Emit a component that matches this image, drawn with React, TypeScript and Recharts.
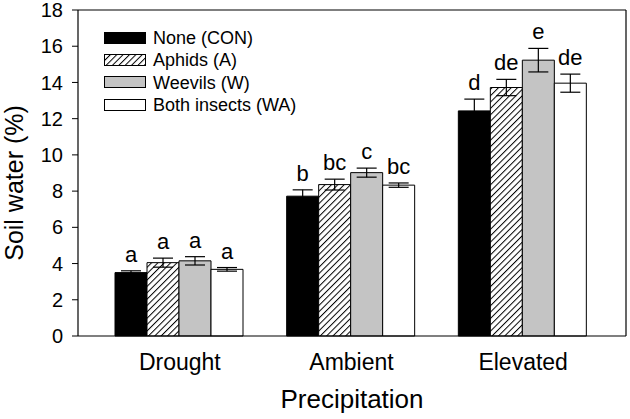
import React from 'react';
import { BarChart, Bar, XAxis, YAxis, ErrorBar, LabelList, usePlotArea } from 'recharts';

const categories = ['Drought', 'Ambient', 'Elevated'];

const noneValues = [3.5, 7.72, 12.43];
const noneErr = [0.1, 0.35, 0.65];
const noneLetters = ['a', 'b', 'd'];

const aphidValues = [4.05, 8.36, 13.72];
const aphidErr = [0.25, 0.3, 0.45];
const aphidLetters = ['a', 'bc', 'de'];

const weevilValues = [4.15, 9.02, 15.23];
const weevilErr = [0.23, 0.25, 0.65];
const weevilLetters = ['a', 'c', 'e'];

const bothValues = [3.68, 8.33, 13.96];
const bothErr = [0.1, 0.12, 0.5];
const bothLetters = ['a', 'bc', 'de'];

const yTicks = [0, 2, 4, 6, 8, 10, 12, 14, 16, 18];

const FONT = 'Arial, "Liberation Sans", sans-serif';

const series = [
  { key: 'none', name: 'None (CON)', fill: '#000000', values: noneValues, err: noneErr, letters: noneLetters },
  { key: 'aphids', name: 'Aphids (A)', fill: 'url(#hatch)', values: aphidValues, err: aphidErr, letters: aphidLetters },
  { key: 'weevils', name: 'Weevils (W)', fill: '#c4c4c4', values: weevilValues, err: weevilErr, letters: weevilLetters },
  { key: 'both', name: 'Both insects (WA)', fill: '#ffffff', values: bothValues, err: bothErr, letters: bothLetters },
];

const chartData = categories.map((category, i) => {
  const row: Record<string, string | number> = { category };
  series.forEach((s) => {
    row[s.key] = s.values[i];
    row[s.key + 'Err'] = s.err[i];
    row[s.key + 'Letter'] = s.letters[i];
  });
  return row;
});

const HatchDef = ({ id }: { id: string }) => (
  <pattern id={id} patternUnits="userSpaceOnUse" width="4.5" height="4.5" patternTransform="rotate(45)">
    <rect width="4.5" height="4.5" fill="#ffffff" />
    <line x1="0" y1="0" x2="0" y2="4.5" stroke="#000" strokeWidth="2" />
  </pattern>
);

// letter above each error bar
const makeLetter = (s: typeof series[number]) => (props: any) => {
  const { x, y, width, height, value, index } = props;
  const v = s.values[index];
  const pxPerUnit = v ? Number(height) / v : 0;
  const errTop = Number(y) - s.err[index] * pxPerUnit;
  return (
    <text x={Number(x) + Number(width) / 2} y={errTop - 9} textAnchor="middle" fontSize={22} fontFamily={FONT} fill="#000">
      {value}
    </text>
  );
};

// frame + axis titles
const Frame = () => {
  const area = usePlotArea();
  if (!area) return null;
  const { x, y, width, height } = area;
  return (
    <g>
      <line x1={x} y1={y} x2={x + width} y2={y} stroke="#000" strokeWidth={1.2} />
      <line x1={x + width} y1={y} x2={x + width} y2={y + height} stroke="#000" strokeWidth={1.2} />
      <text x={x + width / 2} y={408} textAnchor="middle" fontSize={26} fontFamily={FONT} fill="#000">
        Precipitation
      </text>
      <text x={23} y={183} transform="rotate(-90 23 183)" textAnchor="middle" fontSize={25} fontFamily={FONT} fill="#000">
        Soil water (%)
      </text>
    </g>
  );
};

const LegendBox = () => (
  <div style={{ position: 'absolute', left: 104, top: 27, fontFamily: FONT, fontSize: 18 }}>
    {series.map((s) => (
      <div key={s.key} style={{ display: 'flex', alignItems: 'center', height: 22.3 }}>
        <svg width={43} height={13} style={{ marginRight: 6 }}>
          <defs>
            <HatchDef id={'legHatch' + s.key} />
          </defs>
          <rect x={0.5} y={0.5} width={41} height={11} fill={s.key === 'aphids' ? 'url(#legHatch' + s.key + ')' : s.fill} stroke="#000" strokeWidth={1} />
        </svg>
        <span style={{ lineHeight: '22px' }}>{s.name}</span>
      </div>
    ))}
  </div>
);

export default function App() {
  return (
    <div style={{ position: 'absolute', left: 0, top: 0, width: 630, height: 419, background: '#fff' }}>
      <BarChart
        width={630}
        height={419}
        data={chartData}
        margin={{ top: 10, right: 4, bottom: 0, left: 0 }}
        barCategoryGap={21}
        barGap={0}
      >
        <defs>
          <HatchDef id="hatch" />
        </defs>
        <XAxis
          dataKey="category"
          height={83}
          padding={{ left: 16, right: 17 }}
          tickLine={false}
          tickSize={0}
          tickMargin={18}
          axisLine={{ stroke: '#000', strokeWidth: 1.2 }}
          tick={{ fill: '#000', fontSize: 23, fontFamily: FONT }}
        />
        <YAxis
          width={78}
          domain={[0, 18]}
          ticks={yTicks}
          interval={0}
          tickSize={6}
          tickMargin={9}
          axisLine={{ stroke: '#000', strokeWidth: 1.2 }}
          tickLine={{ stroke: '#000' }}
          tick={{ fill: '#000', fontSize: 20, fontFamily: FONT }}
        />
        {series.map((s) => (
          <Bar key={s.key} dataKey={s.key} name={s.name} fill={s.fill} stroke="#000" strokeWidth={1} isAnimationActive={false}>
            <ErrorBar dataKey={s.key + 'Err'} width={10} stroke="#000" strokeWidth={1.2} />
            <LabelList dataKey={s.key + 'Letter'} content={makeLetter(s)} />
          </Bar>
        ))}
        <Frame />
      </BarChart>
      <LegendBox />
    </div>
  );
}
